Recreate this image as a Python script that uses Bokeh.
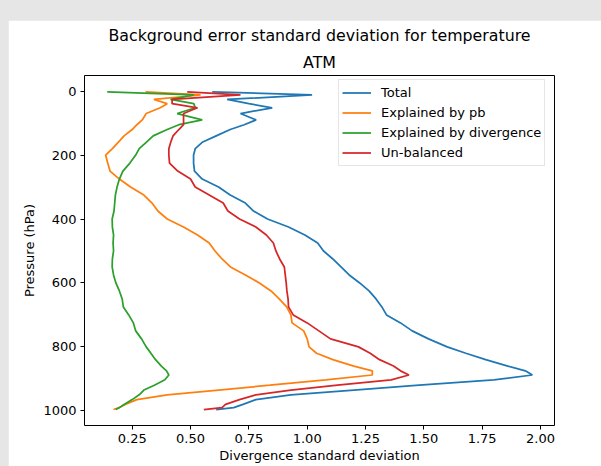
from bokeh.plotting import figure
from bokeh.models import (Range1d, FixedTicker, NumeralTickFormatter, Legend, LegendItem, Title)
from bokeh.embed import file_html
from bokeh.resources import INLINE

# ---------------- data ----------------
pressure = [2, 12, 26, 39, 52, 70, 90, 105, 120, 140, 160, 180, 200, 225, 250, 275, 300,
            325, 350, 375, 400, 425, 450, 475, 500, 525, 550, 575, 600, 625, 650, 675, 700,
            725, 750, 775, 800, 820, 840, 860, 875, 888, 903, 920, 935, 950, 965, 980, 990, 996]

total = [0.593, 1.021, 0.657, 0.75, 0.85, 0.714, 0.781, 0.73, 0.67, 0.61, 0.55, 0.52, 0.513,
         0.513, 0.517, 0.55, 0.62, 0.67, 0.735, 0.77, 0.83, 0.92, 0.99, 1.045, 1.07, 1.11,
         1.145, 1.18, 1.225, 1.265, 1.295, 1.32, 1.34, 1.40, 1.45, 1.52, 1.60, 1.68, 1.765,
         1.86, 1.935, 1.965, 1.80, 1.48, 1.20, 0.93, 0.78, 0.725, 0.685, 0.61]

explained_pb = [0.307, 0.543, 0.343, 0.40, 0.37, 0.31, 0.293, 0.27, 0.25, 0.215, 0.19, 0.165,
                0.136, 0.145, 0.155, 0.195, 0.243, 0.30, 0.335, 0.36, 0.40, 0.47, 0.53, 0.58,
                0.605, 0.635, 0.671, 0.735, 0.795, 0.845, 0.88, 0.912, 0.93, 0.935, 0.985, 1.0,
                1.008, 1.04, 1.11, 1.20, 1.279, 1.279, 1.08, 0.84, 0.62, 0.40, 0.27, 0.22,
                0.195, 0.17]

explained_div = [0.143, 0.514, 0.414, 0.514, 0.52, 0.443, 0.55, 0.45, 0.40, 0.34, 0.31, 0.28,
                 0.265, 0.24, 0.21, 0.195, 0.185, 0.178, 0.175, 0.172, 0.164, 0.165, 0.17,
                 0.168, 0.17, 0.165, 0.164, 0.17, 0.18, 0.195, 0.207, 0.212, 0.235, 0.255,
                 0.265, 0.29, 0.31, 0.33, 0.35, 0.375, 0.397, 0.407, 0.39, 0.345, 0.30, 0.28,
                 0.25, 0.215, 0.195, 0.18]

unbalanced = [0.486, 0.714, 0.421, 0.421, 0.53, 0.47, 0.47, 0.47, 0.45, 0.425, 0.415, 0.407,
              0.407, 0.41, 0.445, 0.50, 0.52, 0.58, 0.64, 0.66, 0.71, 0.78, 0.825, 0.855,
              0.866, 0.882, 0.902, 0.906, 0.91, 0.913, 0.918, 0.92, 0.94, 1.0, 1.05, 1.10,
              1.22, 1.27, 1.31, 1.37, 1.40, 1.436, 1.36, 1.13, 0.93, 0.78, 0.71, 0.65, 0.635,
              0.557]

series_names = ["Total", "Explained by pb", "Explained by divergence", "Un-balanced"]
series_values = [total, explained_pb, explained_div, unbalanced]
series_colors = ["#1f77b4", "#ff7f0e", "#2ca02c", "#d62728"]

x_ticks = [0.25, 0.5, 0.75, 1.0, 1.25, 1.5, 1.75, 2.0]
y_ticks = [0, 200, 400, 600, 800, 1000]

FONT = "DejaVu Sans"

p = figure(width=593, height=446, output_backend="svg", toolbar_location=None,
           title="Background error standard deviation for temperature",
           x_range=Range1d(0.0455, 2.06), y_range=Range1d(1046, -49),
           min_border_left=76, min_border_right=47, min_border_top=55, min_border_bottom=41)

p.background_fill_color = "white"
p.border_fill_color = "white"
p.outline_line_color = "black"
p.outline_line_width = 1
p.xgrid.visible = False
p.ygrid.visible = False

p.title.text_font = FONT
p.title.text_font_size = "15.8px"
p.title.text_font_style = "normal"
p.title.text_color = "black"
p.title.align = "center"
p.title.standoff = 4

t2 = Title(text="ATM", align="center",
           text_font=FONT, text_font_size="15.8px", text_font_style="normal",
           text_color="black", standoff=8)
p.add_layout(t2, "above")

for ax in (p.xaxis[0], p.yaxis[0]):
    ax.axis_line_color = None
    ax.major_tick_out = 4
    ax.major_tick_in = 0
    ax.minor_tick_line_color = None
    ax.major_tick_line_color = "black"
    ax.major_label_text_font = FONT
    ax.major_label_text_font_size = "13px"
    ax.major_label_text_color = "black"
    ax.axis_label_text_font = FONT
    ax.axis_label_text_font_size = "13px"
    ax.axis_label_text_font_style = "normal"
    ax.axis_label_text_color = "black"
    ax.major_label_standoff = 4

p.xaxis.ticker = FixedTicker(ticks=x_ticks)
p.xaxis.formatter = NumeralTickFormatter(format="0.00")
p.xaxis.axis_label = "Divergence standard deviation"
p.xaxis.axis_label_standoff = 2

p.yaxis.ticker = FixedTicker(ticks=y_ticks)
p.yaxis.axis_label = "Pressure (hPa)"
p.yaxis.axis_label_standoff = 3
p.yaxis.major_label_orientation = "horizontal"

items = []
for name, vals, col in zip(series_names, series_values, series_colors):
    r = p.line(vals, pressure, line_color=col, line_width=1.75)
    items.append(LegendItem(label=name, renderers=[r]))

legend = Legend(items=items, location=(254, 259), padding=3, spacing=1,
                label_height=19, glyph_height=19, glyph_width=29, label_standoff=10,
                label_text_font=FONT, label_text_font_size="13px", label_text_color="black",
                border_line_color="#cccccc", border_line_width=1,
                background_fill_color="white", background_fill_alpha=0.8, margin=0)
p.add_layout(legend, "center")

html = file_html(p, INLINE)
html = html.replace("</head>",
                    "<style>html,body{background:#e6e6e6;}body{margin:20px 0 0 8px;overflow:hidden;}</style></head>", 1)
open("out.html", "w").write(html)
